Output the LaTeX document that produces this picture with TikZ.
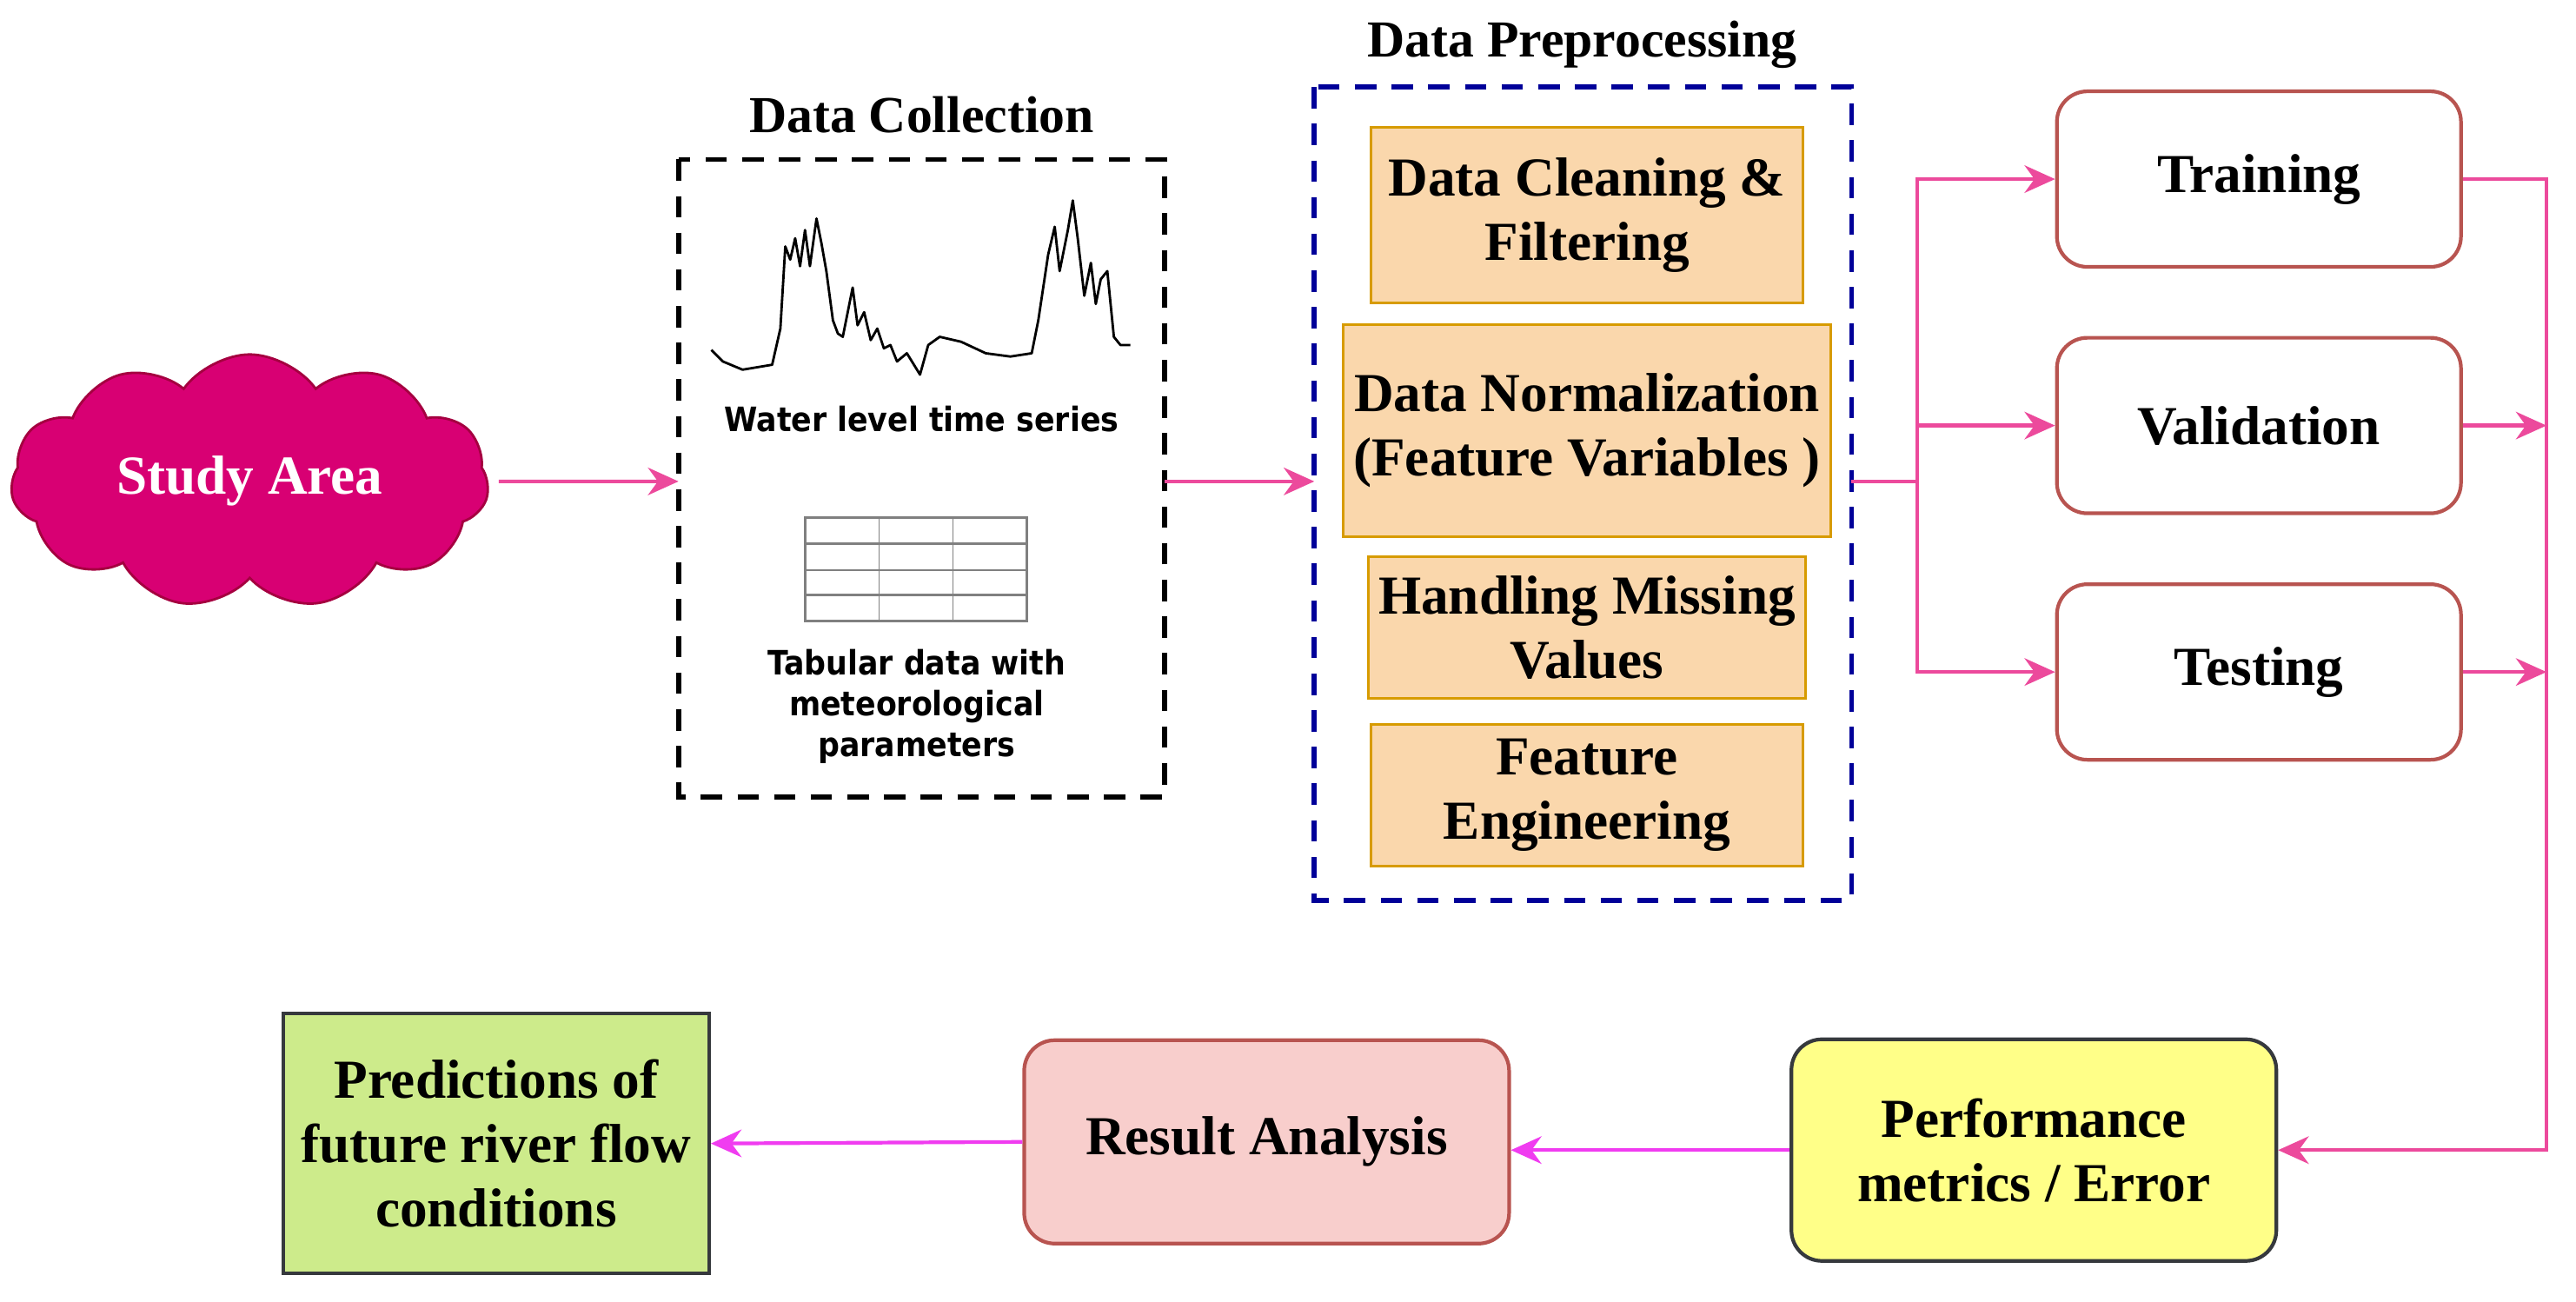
\documentclass[tikz,border=0pt]{standalone}
\usepackage{fontspec}
\setmainfont{Liberation Serif}
\newfontfamily\labelsans{DejaVu Sans Condensed}
\usetikzlibrary{positioning, shapes.symbols, arrows.meta}

\definecolor{pinkline}{HTML}{EC4A9C}
\definecolor{magline}{HTML}{F03CF0}
\definecolor{cloudfill}{HTML}{D80073}
\definecolor{cloudedge}{HTML}{A50040}
\definecolor{prepfill}{HTML}{FAD7AC}
\definecolor{prepedge}{HTML}{D79B00}
\definecolor{redge}{HTML}{B85450}
\definecolor{resfill}{HTML}{F8CECC}
\definecolor{perffill}{HTML}{FFFF88}
\definecolor{darkedge}{HTML}{36393D}
\definecolor{predfill}{HTML}{CDEB8B}

\begin{document}
\begin{tikzpicture}
	[
	x=0.0189cm, y=-0.0189cm,
	BigFont/.style={font=\fontsize{18}{21}\selectfont\bfseries},					%Schrift der Kaesten
	TitleFont/.style={font=\fontsize{17}{20}\selectfont\bfseries},					%Schrift der Titel
	SmallSans/.style={font=\fontsize{11}{13.5}\selectfont\labelsans\bfseries, align=center},	%Beschriftung der Daten
	PrepBox/.style={draw=prepedge, fill=prepfill, thick, minimum width=4.97cm, align=center, BigFont},
	SplitBox/.style={draw=redge, very thick, rounded corners=10pt, fill=white, minimum width=4.65cm, minimum height=2.02cm, BigFont},
	PinkArrow/.style={pinkline, very thick, -{Stealth[length=10pt,width=9pt]}},
	MagArrow/.style={magline, very thick, -{Stealth[length=10pt,width=9pt]}},
	Group/.style={dash pattern=on 7pt off 5pt, line width=1.6pt}
	]
	\useasboundingbox (0,0) rectangle (1568,792);

	% Untersuchungsgebiet
	\node[cloud, cloud puffs=11, cloud puff arc=110, aspect=2, draw=cloudedge, fill=cloudfill, thick,
		minimum width=5.5cm, minimum height=2.8cm, BigFont, text=white] (study) at (152,293) {Study Area};

	% Datensammlung
	\draw[Group, black] (413,97) rectangle (709,485);
	\node[TitleFont] (colTitle) at (561,70) {Data Collection};
	\coordinate (colIn)  at (413,293);
	\coordinate (colOut) at (709,293);
	\draw[thick, line join=round] plot coordinates {(433,213) (440,220) (452,225) (470,222) (475,200) (478,150)
		(481,158) (484,145) (487,162) (490,140) (493,162) (497,133) (500,148) (503,165) (507,195) (510,203) (513,205)
		(517,185) (519,175) (522,198) (526,190) (530,207) (534,200) (538,212) (542,210) (546,220) (552,215)
		(560,228) (565,210) (572,205) (585,208) (600,215) (615,217) (628,215) (632,195) (638,155) (642,138)
		(645,165) (650,140) (653,122) (656,145) (660,180) (664,160) (667,185) (670,170) (674,165) (678,205) (682,210) (688,210)};
	\node[SmallSans] (series) at (561,255) {Water level time series};
	\draw[gray, thick] (490,315) rectangle (625,378);
	\foreach \gx in {535,580} \draw[gray] (\gx,315) -- (\gx,378);
	\foreach \gy in {331,347,362} \draw[gray, thick] (490,\gy) -- (625,\gy);
	\node[SmallSans] (tabular) at (558,430) {Tabular data with\\meteorological\\parameters};

	% Datenvorverarbeitung
	\draw[Group, blue!60!black] (800,53) rectangle (1127,548);
	\node[TitleFont] (prepTitle) at (963,27) {Data Preprocessing};
	\coordinate (prepIn)  at (800,293);
	\coordinate (prepOut) at (1127,293);
	\node[PrepBox, minimum height=2.02cm] (clean) at (966,131) {Data Cleaning \&\\Filtering};
	\node[PrepBox, minimum height=2.44cm] (norm)  at (966,262) {Data Normalization\\(Feature Variables )};
	\node[PrepBox, minimum height=1.63cm] (miss)  at (966,382) {Handling Missing\\Values};
	\node[PrepBox, minimum height=1.63cm] (feat)  at (966,484) {Feature\\Engineering};

	% Aufteilung
	\node[SplitBox] (train) at (1375,109) {Training};
	\node[SplitBox] (valid) at (1375,259) {Validation};
	\node[SplitBox] (test)  at (1375,409) {Testing};
	\coordinate (fork) at (1167,293);
	\coordinate (join) at (1550,700);

	% Auswertung
	\node[draw=darkedge, very thick, fill=perffill, rounded corners=10pt, minimum width=5.58cm, minimum height=2.55cm,
		align=center, BigFont] (perf) at (1238,700) {Performance\\metrics / Error};
	\node[draw=redge, very thick, fill=resfill, rounded corners=10pt, minimum width=5.58cm, minimum height=2.34cm,
		BigFont] (result) at (771,695) {Result Analysis};
	\node[draw=darkedge, very thick, fill=predfill, minimum width=4.9cm, minimum height=2.99cm,
		align=center, BigFont] (pred) at (302,696) {Predictions of\\future river flow\\conditions};

	% Verbindungen
	\draw[PinkArrow] (study.east) ++(6,0) -- (colIn);
	\draw[PinkArrow] (colOut) -- (prepIn);
	\draw[pinkline, very thick] (prepOut) -- (fork);
	\draw[PinkArrow] (fork) |- (train.west);
	\draw[PinkArrow] (fork) |- (test.west);
	\draw[PinkArrow] (fork |- valid.west) -- (valid.west);
	\draw[PinkArrow] (train.east) -| (join) -- (perf.east);
	\draw[PinkArrow] (valid.east) -- (valid.east -| join);
	\draw[PinkArrow] (test.east) -- (test.east -| join);
	\draw[MagArrow] (perf.west) -- (perf.west -| result.east);
	\draw[MagArrow] (result.west) -- (pred.east);
\end{tikzpicture}
\end{document}
